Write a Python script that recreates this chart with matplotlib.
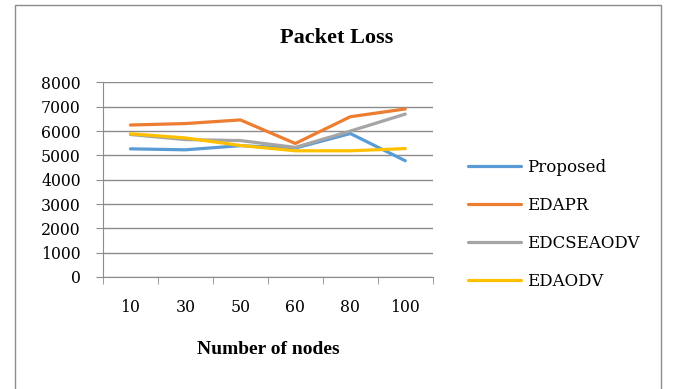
import numpy as np
import matplotlib

matplotlib.use("Agg")
import matplotlib.pyplot as plt
from matplotlib.patches import Rectangle

NODES = ["10", "30", "50", "60", "80", "100"]
PROPOSED = [5270, 5230, 5400, 5300, 5900, 4780]
EDAPR = [6250, 6310, 6460, 5490, 6590, 6910]
EDCSEAODV = [5860, 5650, 5610, 5330, 6000, 6700]
EDAODV = [5890, 5720, 5410, 5190, 5190, 5280]
YTICKS = [0, 1000, 2000, 3000, 4000, 5000, 6000, 7000, 8000]

SERIES = [("Proposed", PROPOSED, "#5B9BD5"),
          ("EDAPR", EDAPR, "#ED7D31"),
          ("EDCSEAODV", EDCSEAODV, "#A5A5A5"),
          ("EDAODV", EDAODV, "#FFC000")]
GRID = "#8c8c8c"

fig = plt.figure(figsize=(6.73, 3.89), dpi=100)
ax = fig.add_axes([0.153, 0.288, 0.49, 0.5])

x = np.arange(len(NODES))
for name, vals, c in SERIES:
    ax.plot(x, vals, color=c, lw=2.3, label=name, solid_capstyle="round")

ax.set_xlim(-0.5, len(NODES) - 0.5)
ax.set_ylim(0, 8000)
ax.set_yticks(YTICKS)
ax.set_yticklabels([str(v) for v in YTICKS], family="DejaVu Serif", fontsize=11.3)
ax.yaxis.grid(True, color=GRID, lw=1)
ax.set_axisbelow(True)
ax.set_xticks(x)
ax.set_xticklabels(NODES, family="DejaVu Serif", fontsize=11.3)
ax.set_xticks(np.arange(len(NODES) + 1) - 0.5, minor=True)
ax.tick_params(axis="x", which="major", length=0, pad=16)
ax.tick_params(axis="x", which="minor", length=5, color=GRID)
ax.tick_params(axis="y", length=5, color=GRID, pad=11)
for s in ("top", "right"):
    ax.spines[s].set_visible(False)
for s in ("left", "bottom"):
    ax.spines[s].set_color(GRID)

ax.set_xlabel("Number of nodes", family="Liberation Serif", fontweight="bold", fontsize=14, labelpad=18)
fig.text(0.5, 0.902, "Packet Loss", family="Liberation Serif", fontweight="bold", fontsize=16, ha="center", va="center")

ax.legend(loc="center left", bbox_to_anchor=(1.06, 0.27), frameon=False, handlelength=3.2,
          handletextpad=0.35, labelspacing=1.25, prop={"family": "DejaVu Serif", "size": 12})

fig.patches.append(Rectangle((15 / 673, -0.02), 646 / 673, 1.02 - 5 / 389, transform=fig.transFigure,
                             fill=False, edgecolor="#8c8c8c", lw=1))

fig.savefig("out.png", dpi=100)
